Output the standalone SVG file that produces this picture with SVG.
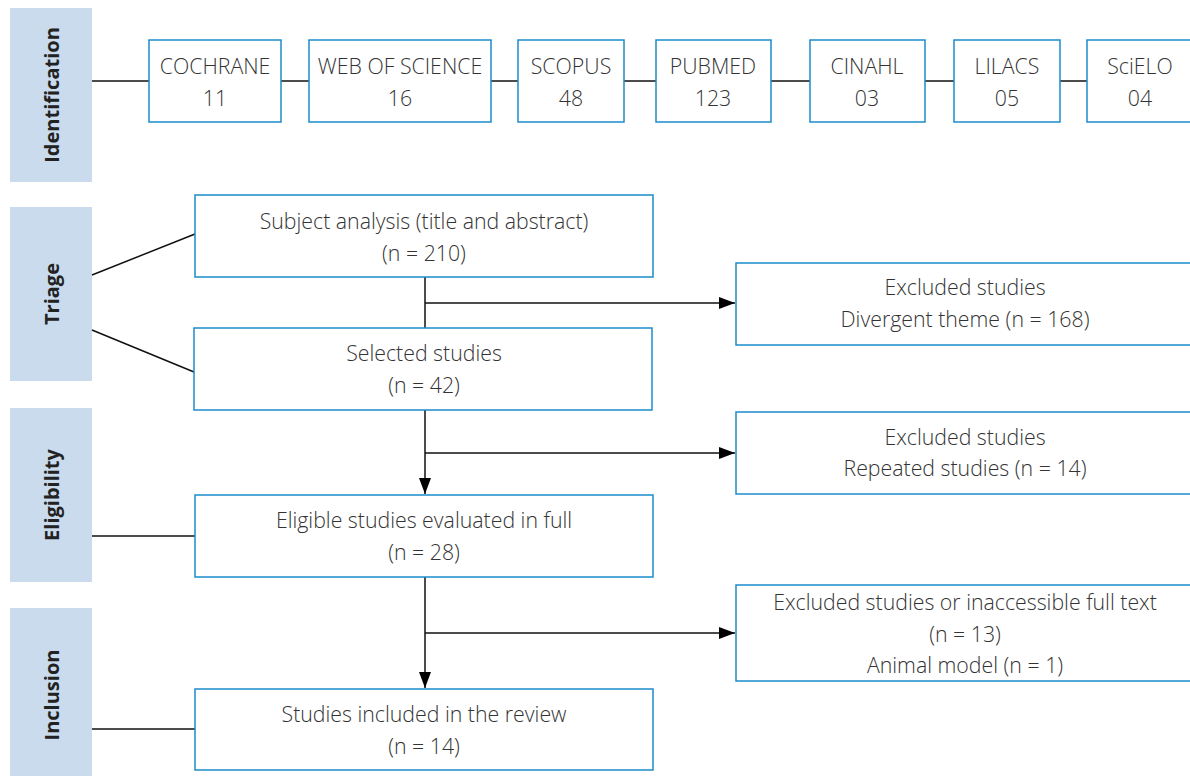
<svg xmlns="http://www.w3.org/2000/svg" width="1190" height="776" viewBox="0 0 1190 776">
<style>
.side{fill:#c9dbed}
.sl{font-family:"Open Sans","Liberation Sans",sans-serif;font-weight:700;font-size:20px;fill:#222;text-anchor:middle}
.box{fill:#fff;stroke:#1b8ccc;stroke-width:1.5}
.t{font-family:"Open Sans","Liberation Sans",sans-serif;font-weight:300;font-size:21.3px;fill:#333;text-anchor:middle}
.ln{stroke:#111;stroke-width:1.5;fill:none}
</style>
<defs>
<marker id="ah" markerWidth="16" markerHeight="12" refX="16" refY="6" orient="auto" markerUnits="userSpaceOnUse">
<path d="M0,0 L16,6 L0,12 Z" fill="#000"/>
</marker>
</defs>
<g id="sides">
<g id="s-identification"><rect class="side" x="10" y="8" width="82" height="174"/><text class="sl" transform="translate(59,95) rotate(-90)">Identification</text></g>
<g id="s-triage"><rect class="side" x="10" y="207" width="82" height="174"/><text class="sl" transform="translate(59,294) rotate(-90)">Triage</text></g>
<g id="s-eligibility"><rect class="side" x="10" y="408" width="82" height="174"/><text class="sl" transform="translate(59,495) rotate(-90)">Eligibility</text></g>
<g id="s-inclusion"><rect class="side" x="10" y="608" width="82" height="168"/><text class="sl" transform="translate(59,695) rotate(-90)">Inclusion</text></g>
</g>
<g id="connectors">
<line class="ln" x1="92" y1="81" x2="1087" y2="81"/>
<line class="ln" x1="92" y1="275" x2="195" y2="234"/>
<line class="ln" x1="92" y1="330" x2="194" y2="372"/>
<line class="ln" x1="425" y1="277" x2="425" y2="328"/>
<line class="ln" x1="425" y1="303" x2="735" y2="303" marker-end="url(#ah)"/>
<line class="ln" x1="425" y1="410" x2="425" y2="494" marker-end="url(#ah)"/>
<line class="ln" x1="425" y1="453" x2="735" y2="453" marker-end="url(#ah)"/>
<line class="ln" x1="92" y1="536" x2="195" y2="536"/>
<line class="ln" x1="425" y1="577" x2="425" y2="688" marker-end="url(#ah)"/>
<line class="ln" x1="425" y1="633" x2="735" y2="633" marker-end="url(#ah)"/>
<line class="ln" x1="92" y1="729" x2="195" y2="729"/>
</g>
<g id="n-cochrane"><rect class="box" x="149" y="40" width="132" height="82"/><text class="t" x="215" y="74">COCHRANE</text><text class="t" x="215" y="106">11</text></g>
<g id="n-wos"><rect class="box" x="309" y="40" width="182" height="82"/><text class="t" x="400" y="74">WEB OF SCIENCE</text><text class="t" x="400" y="106">16</text></g>
<g id="n-scopus"><rect class="box" x="518" y="40" width="106" height="82"/><text class="t" x="571" y="74">SCOPUS</text><text class="t" x="571" y="106">48</text></g>
<g id="n-pubmed"><rect class="box" x="656" y="40" width="115" height="82"/><text class="t" x="713" y="74">PUBMED</text><text class="t" x="713" y="106">123</text></g>
<g id="n-cinahl"><rect class="box" x="810" y="40" width="115" height="82"/><text class="t" x="867" y="74">CINAHL</text><text class="t" x="867" y="106">03</text></g>
<g id="n-lilacs"><rect class="box" x="954" y="40" width="106" height="82"/><text class="t" x="1007" y="74">LILACS</text><text class="t" x="1007" y="106">05</text></g>
<g id="n-scielo"><rect class="box" x="1087" y="40" width="110" height="82"/><text class="t" x="1140" y="74">SciELO</text><text class="t" x="1140" y="106">04</text></g>
<g id="n-subject"><rect class="box" x="195" y="195" width="458" height="82"/><text class="t" x="424" y="229">Subject analysis (title and abstract)</text><text class="t" x="424" y="261">(n = 210)</text></g>
<g id="n-excl1"><rect class="box" x="736" y="263" width="460" height="82"/><text class="t" x="965" y="295">Excluded studies</text><text class="t" x="965" y="327">Divergent theme (n = 168)</text></g>
<g id="n-selected"><rect class="box" x="194" y="328" width="458" height="82"/><text class="t" x="424" y="361">Selected studies</text><text class="t" x="424" y="393">(n = 42)</text></g>
<g id="n-excl2"><rect class="box" x="736" y="412" width="460" height="82"/><text class="t" x="965" y="445">Excluded studies</text><text class="t" x="965" y="476">Repeated studies (n = 14)</text></g>
<g id="n-eligible"><rect class="box" x="195" y="495" width="458" height="82"/><text class="t" x="424" y="528">Eligible studies evaluated in full</text><text class="t" x="424" y="560">(n = 28)</text></g>
<g id="n-excl3"><rect class="box" x="736" y="585" width="460" height="96"/><text class="t" x="965" y="610">Excluded studies or inaccessible full text</text><text class="t" x="965" y="642">(n = 13)</text><text class="t" x="965" y="673">Animal model (n = 1)</text></g>
<g id="n-included"><rect class="box" x="195" y="689" width="458" height="81"/><text class="t" x="424" y="722">Studies included in the review</text><text class="t" x="424" y="754">(n = 14)</text></g>
</svg>
